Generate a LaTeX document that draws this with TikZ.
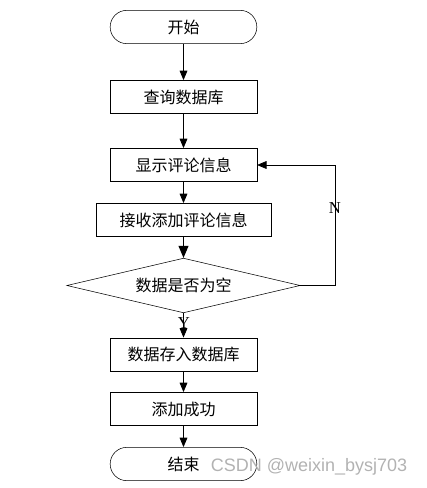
\documentclass[tikz,border=0pt]{standalone}
\usepackage{fontspec}
\setmainfont{Liberation Serif}
\newfontfamily\cjk{Noto Sans CJK SC}
\newfontfamily\wmfont{Liberation Sans}
\usetikzlibrary{shapes,arrows}

\begin{document}
\begin{tikzpicture}[x=0.75pt,y=-0.75pt]
				\tikzstyle{every node}=[draw, shape=rectangle, minimum width = 110pt, minimum height = 25pt, inner sep=0pt, font=\cjk\fontsize{12}{14}\selectfont];
				\tikzstyle{terminal}=[rounded corners=12.5pt];
				\tikzstyle{decide}=[shape=diamond, aspect=4.2, minimum width=175pt, minimum height=41pt];
				\tikzstyle{lbl}=[draw=none, minimum width=0pt, minimum height=0pt, font=\fontsize{12.5}{14}\selectfont];
				\tikzstyle{flow}=[-triangle 45, line width=0.6pt];
				\useasboundingbox (0,0) rectangle (427,488);
				\node [terminal] (s0) at (183.5, 27) {开始};
				\node (n01) at (183.5, 97) {查询数据库};
				\draw[flow] (s0) -- (n01);
				\node (n02) at (183.5, 165) {显示评论信息};
				\draw[flow] (n01) -- (n02);
				\node [minimum width = 131pt] (n03) at (183.5, 220) {接收添加评论信息};
				\draw[flow] (n02) -- (n03);
				\node [decide] (d01) at (183.5, 285.5) {数据是否为空};
				\draw[flow, line width=1.1pt] (n03) -- (d01);
				\coordinate (c01) at (335, 285.5);
				\coordinate (c02) at (335, 165);
				\draw[flow] (d01.east) -- (c01) -- (c02) -- (n02.east);
				\node [lbl] (t01) at (335, 208) {N};
				\node (n04) at (183.5, 354.5) {数据存入数据库};
				\draw[flow] (d01) -- (n04);
				\node [lbl] (t02) at (184, 323) {Y};
				\node (n05) at (183.5, 409) {添加成功};
				\draw[flow] (n04) -- (n05);
				\node [terminal] (e0) at (183.5, 464) {结束};
				\draw[flow] (n05) -- (e0);
				\node [draw=none, minimum width=0pt, minimum height=0pt, text=black!30, font=\wmfont\fontsize{13.5}{16}\selectfont] (w01) at (309, 467) {CSDN @weixin\_bysj703};
			\end{tikzpicture}
\end{document}
